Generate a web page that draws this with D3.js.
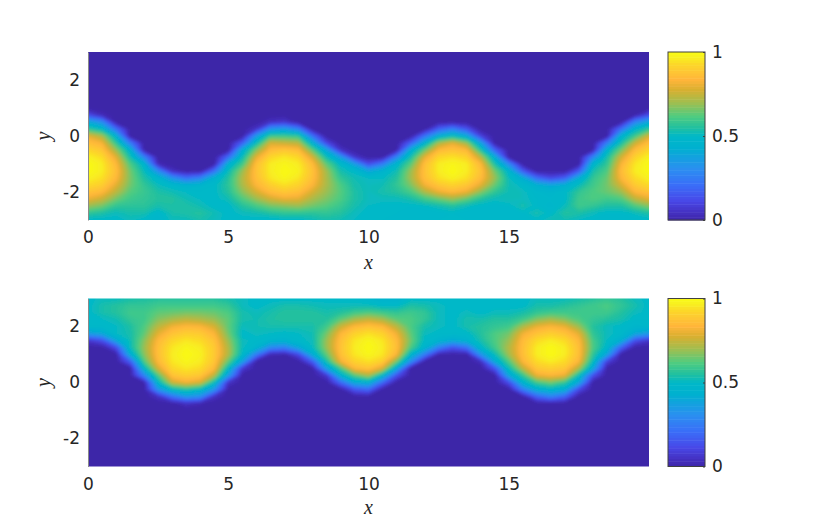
<!DOCTYPE html>
<html>
<head>
<meta charset="utf-8">
<script src="https://cdn.jsdelivr.net/npm/d3@7"></script>
<style>
  html, body { margin: 0; padding: 0; background: #fff; }
  text { font-family: "DejaVu Sans", sans-serif; fill: #262626; }
  .lbl { font-family: "Liberation Serif", serif; font-style: italic; }
</style>
</head>
<body>
<div id="graphic"></div>
<script>
// x position of each column of the grids below
const xCols = d3.range(41).map(i => i * 0.5);
// y position of the rows, top to bottom
const yRowsTop = d3.range(17).map(i => 1 - i * 0.25);
const yRowsBottom = d3.range(17).map(i => 3 - i * 0.25);

const xTicks = [0, 5, 10, 15];
const yTicks = [-2, 0, 2];
const barTicks = [0, 0.5, 1];
const barLabels = ["0", "0.5", "1"];

// values, in percent, one line per column
const gridTop = [
  [0,13,41,58,80,87,93,98,100,100,98,94,88,81,70,58,50],
  [0,3,31,50,72,83,89,94,97,97,95,91,85,76,66,55,50],
  [0,0,0,22,46,58,70,80,85,87,85,80,74,66,58,52,50],
  [0,0,0,0,0,26,47,54,62,66,67,66,63,60,57,54,52],
  [0,0,0,0,0,0,1,28,48,52,55,58,59,58,57,54,50],
  [0,0,0,0,0,0,0,0,3,31,48,52,55,56,54,49,48],
  [0,0,0,0,0,0,0,0,0,5,33,49,53,56,55,54,52],
  [0,0,0,0,0,0,0,0,0,0,22,46,51,53,55,55,52],
  [0,0,0,0,0,0,0,0,0,0,28,48,50,51,53,56,54],
  [0,0,0,0,0,0,0,0,0,23,46,50,50,50,50,53,52],
  [0,0,0,0,0,0,0,21,45,52,56,57,56,53,50,50,50],
  [0,0,0,0,0,18,44,52,60,70,73,72,68,62,56,52,50],
  [0,0,0,6,35,52,68,80,87,88,87,84,78,70,61,53,50],
  [0,0,5,33,60,78,86,93,97,97,96,91,86,77,66,56,49],
  [0,0,7,37,60,76,89,96,99,100,99,95,89,81,68,58,50],
  [0,0,0,27,58,74,86,93,97,98,96,92,87,80,70,58,50],
  [0,0,0,0,23,46,64,78,86,88,87,84,78,72,66,57,52],
  [0,0,0,0,0,12,40,53,64,71,72,72,70,67,63,58,54],
  [0,0,0,0,0,0,6,36,50,54,58,62,63,62,59,56,53],
  [0,0,0,0,0,0,0,7,37,50,53,54,55,55,54,52,51],
  [0,0,0,0,0,0,0,0,13,40,51,52,52,52,51,50,50],
  [0,0,0,0,0,0,0,0,26,47,51,53,54,52,50,50,50],
  [0,0,0,0,0,0,1,28,48,53,56,58,56,52,50,50,49],
  [0,0,0,0,0,18,44,54,63,70,71,67,61,54,50,49,49],
  [0,0,0,0,23,46,65,80,87,88,87,82,72,60,51,49,49],
  [0,0,0,18,44,72,85,93,97,97,95,89,81,65,53,49,50],
  [0,0,0,27,52,80,88,95,99,100,98,92,85,70,56,50,50],
  [0,0,0,15,42,70,85,92,97,97,95,89,81,64,52,49,50],
  [0,0,0,0,10,39,56,74,85,88,86,80,68,56,50,49,49],
  [0,0,0,0,0,0,19,44,55,66,70,65,58,52,49,49,49],
  [0,0,0,0,0,0,0,0,30,48,52,53,53,53,50,49,49],
  [0,0,0,0,0,0,0,0,0,17,43,50,52,52,54,50,49],
  [0,0,0,0,0,0,0,0,0,0,21,45,49,50,50,54,50],
  [0,0,0,0,0,0,0,0,0,0,12,40,48,49,48,50,53],
  [0,0,0,0,0,0,0,0,0,0,18,44,50,50,52,56,53],
  [0,0,0,0,0,0,0,0,0,17,43,52,58,60,60,55,51],
  [0,0,0,0,0,0,1,28,48,54,58,60,62,62,58,52,50],
  [0,0,0,0,0,26,47,54,58,62,65,66,65,60,55,50,49],
  [0,0,0,22,46,54,66,77,83,86,84,78,70,62,55,50,49],
  [0,1,28,48,60,76,86,92,96,97,94,90,84,74,62,52,49],
  [0,13,41,58,78,87,93,98,100,100,98,94,88,80,68,55,50]
];

const gridBottom = [
  [50,50,50,50,50,37,7,0,0,0,0,0,0,0,0,0,0],
  [52,54,54,51,50,41,14,0,0,0,0,0,0,0,0,0,0],
  [52,56,56,53,51,51,40,13,0,0,0,0,0,0,0,0,0],
  [54,58,60,58,55,54,53,52,43,17,0,0,0,0,0,0,0],
  [55,58,60,60,62,64,68,70,68,62,48,28,1,0,0,0,0],
  [56,60,64,68,74,80,85,87,87,85,78,62,49,33,5,0,0],
  [56,60,65,72,82,88,93,96,97,96,93,88,76,50,23,0,0],
  [56,60,66,75,85,91,96,99,100,99,96,91,82,56,35,5,0],
  [56,60,66,73,84,90,94,97,98,97,94,89,78,50,31,2,0],
  [56,60,65,70,78,84,88,90,90,89,85,74,52,33,5,0,0],
  [54,58,62,64,64,66,70,73,73,64,50,36,6,0,0,0,0],
  [52,52,54,54,52,50,52,52,50,38,8,0,0,0,0,0,0],
  [50,50,52,53,53,52,50,47,26,0,0,0,0,0,0,0,0],
  [50,52,54,55,54,51,48,30,2,0,0,0,0,0,0,0,0],
  [50,54,56,56,54,50,47,27,1,0,0,0,0,0,0,0,0],
  [50,54,56,56,54,51,50,40,12,0,0,0,0,0,0,0,0],
  [50,53,56,56,54,53,52,51,43,17,0,0,0,0,0,0,0],
  [50,52,54,56,60,66,70,70,64,54,37,7,0,0,0,0,0],
  [50,52,56,64,76,84,87,88,87,82,60,45,20,0,0,0,0],
  [50,52,60,72,85,92,96,97,96,92,85,62,42,15,0,0,0],
  [48,52,62,76,88,95,99,100,99,95,88,72,45,20,0,0,0],
  [46,50,60,72,85,92,96,97,96,91,78,48,20,0,0,0,0],
  [46,50,58,64,74,82,86,87,84,66,41,14,0,0,0,0,0],
  [50,55,60,62,62,64,66,62,48,31,0,0,0,0,0,0,0],
  [50,54,58,58,54,52,50,47,26,0,0,0,0,0,0,0,0],
  [50,52,52,52,52,50,47,27,1,0,0,0,0,0,0,0,0],
  [50,50,50,50,50,50,42,15,0,0,0,0,0,0,0,0,0],
  [50,50,52,54,54,50,46,23,0,0,0,0,0,0,0,0,0],
  [50,50,50,54,56,56,54,49,33,4,0,0,0,0,0,0,0],
  [50,50,52,56,58,62,62,60,52,42,15,0,0,0,0,0,0],
  [50,50,52,56,60,66,70,73,71,62,52,40,13,0,0,0,0],
  [50,50,54,60,72,82,86,87,87,84,74,58,47,26,0,0,0],
  [52,54,58,68,81,88,94,97,97,94,89,81,60,44,19,0,0],
  [52,54,60,72,84,91,97,100,100,97,91,84,66,48,28,0,0],
  [52,56,60,68,81,88,94,97,97,94,89,81,58,44,19,0,0],
  [54,58,60,62,70,80,85,87,87,84,72,52,40,12,0,0,0],
  [56,60,60,58,56,58,61,62,58,52,41,14,0,0,0,0,0],
  [58,62,60,56,52,52,51,49,39,10,0,0,0,0,0,0,0],
  [56,58,56,54,50,50,44,19,0,0,0,0,0,0,0,0,0],
  [52,54,52,50,48,41,14,0,0,0,0,0,0,0,0,0,0],
  [50,50,50,50,49,35,6,0,0,0,0,0,0,0,0,0,0]
];

// colorbar stops
const colorStops = [0, 0.045, 0.115, 0.21, 0.31, 0.43, 0.5, 0.55, 0.62, 0.7, 0.776, 0.835, 0.88, 0.93, 0.97, 1];
const colorValues = ["#3e26a8", "#4430c0", "#4848e8", "#3a6ef8", "#2a90f0", "#00b0d0", "#00b8c8",
  "#20c0a0", "#50cc80", "#a0be50", "#d8b030", "#ffb53a", "#fec535", "#fcd828", "#f8f020", "#f9fb15"];

const color = d3.scaleLinear().domain(colorStops).range(colorValues).clamp(true);

const width = 830, height = 518;
const panelW = 561, panelH = 168;
const left = 88, barLeft = 668, barW = 37;

const svg = d3.select("#graphic").append("svg")
  .attr("width", width)
  .attr("height", height)
  .style("display", "block");

// soften the steps of the coarse grid, the original is a shaded surface
svg.append("filter").attr("id", "soft")
  .attr("filterUnits", "userSpaceOnUse")
  .attr("x", -30).attr("y", -30).attr("width", 640).attr("height", 240)
  .append("feGaussianBlur").attr("stdDeviation", 1.5);

function drawPanel(top, grid, yRows, id, xLabelY) {
  const x = d3.scaleLinear().domain([0, 20]).range([0, panelW]);
  const y = d3.scaleLinear().domain([-3, 3]).range([panelH, 0]);
  const g = svg.append("g").attr("transform", `translate(${left}, ${top})`);

  g.append("clipPath").attr("id", id)
    .append("rect").attr("width", panelW).attr("height", panelH);

  const field = g.append("g").attr("clip-path", `url(#${id})`)
    .append("g").attr("filter", "url(#soft)");
  field.append("rect")
    .attr("x", -20).attr("y", -20)
    .attr("width", panelW + 40)
    .attr("height", panelH + 40)
    .attr("fill", color(0));

  // flat array, row by row, as d3.contours wants it
  const flat = [];
  yRows.forEach((_, r) => xCols.forEach((_, c) => flat.push(grid[c][r] / 100)));

  const nx = xCols.length, ny = yRows.length;
  const levels = d3.range(1, 96).map(i => i / 96);
  const contours = d3.contours().size([nx, ny]).thresholds(levels)(flat);

  const dx = xCols[1] - xCols[0];
  const dy = yRows[0] - yRows[1];
  // outer edge of the grid is pushed out so the blur has no dark rim
  const path = d3.geoPath(d3.geoTransform({
    point: function(cx, cy) {
      let px = x((cx - 0.5) * dx);
      let py = y(yRows[0] - (cy - 0.5) * dy);
      if (cx === 0) px -= 14;
      if (cx === nx) px += 14;
      if (cy === 0) py -= 14;
      if (cy === ny) py += 14;
      this.stream.point(px, py);
    }
  }));

  field.selectAll("path")
    .data(contours)
    .enter().append("path")
      .attr("d", path)
      .attr("fill", d => color(d.value));

  // axes
  const xAxis = g.append("g")
    .attr("transform", `translate(0, ${panelH})`)
    .call(d3.axisBottom(x).tickValues(xTicks).tickSize(0).tickPadding(11));
  xAxis.select(".domain").remove();
  xAxis.selectAll("text").style("font-size", "17px").attr("fill", "#262626");

  const yAxis = g.append("g")
    .call(d3.axisLeft(y).tickValues(yTicks).tickSize(0).tickPadding(8).tickFormat(d => d));
  yAxis.select(".domain").attr("stroke", "#8a8a8a").attr("stroke-width", 1);
  yAxis.selectAll("text").style("font-size", "17px").attr("fill", "#262626");

  g.append("text").attr("class", "lbl")
    .attr("x", panelW / 2).attr("y", xLabelY)
    .attr("text-anchor", "middle")
    .style("font-size", "20px")
    .text("x");

  g.append("text").attr("class", "lbl")
    .attr("transform", `translate(-38, ${panelH / 2}) rotate(-90)`)
    .attr("text-anchor", "middle")
    .style("font-size", "20px")
    .text("y");

  // colorbar
  const c = d3.scaleLinear().domain([0, 1]).range([panelH, 0]);
  const bar = svg.append("g").attr("transform", `translate(${barLeft}, ${top})`);
  const steps = d3.range(64).map(i => i / 64);
  bar.selectAll("rect")
    .data(steps)
    .enter().append("rect")
      .attr("x", 0)
      .attr("width", barW)
      .attr("y", d => c(d + 1 / 64))
      .attr("height", panelH / 64 + 0.5)
      .attr("fill", d => color(d + 1 / 128));
  bar.append("rect")
    .attr("width", barW).attr("height", panelH)
    .attr("fill", "none").attr("stroke", "#404040").attr("stroke-width", 1);

  const barAxis = bar.append("g")
    .attr("transform", `translate(${barW}, 0)`)
    .call(d3.axisRight(c).tickValues(barTicks).tickSize(0).tickPadding(7)
      .tickFormat((d, i) => barLabels[i]));
  barAxis.select(".domain").remove();
  barAxis.selectAll("text").style("font-size", "17px").attr("fill", "#262626");
  barAxis.selectAll("line").attr("x2", -2).attr("stroke", "#404040");
}

drawPanel(52, gridTop, yRowsTop, "clip-top", 217);
drawPanel(298.5, gridBottom, yRowsBottom, "clip-bottom", 215);
</script>
</body>
</html>
